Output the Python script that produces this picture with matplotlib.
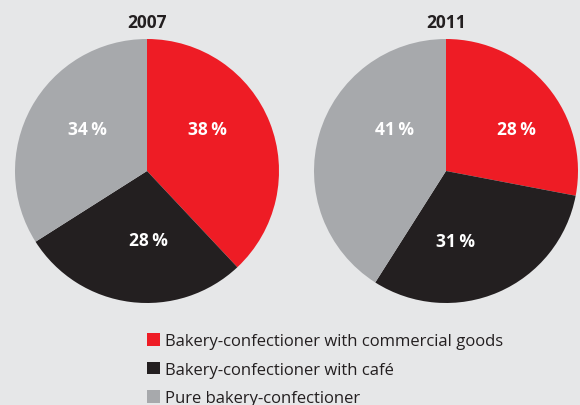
import matplotlib.pyplot as plt

plt.rcParams['font.family'] = ['Open Sans', 'DejaVu Sans']

years = ['2007', '2011']
categories = ['Bakery-confectioner with commercial goods',
              'Bakery-confectioner with café',
              'Pure bakery-confectioner']
shares_2007 = [38, 28, 34]
shares_2011 = [28, 31, 41]
colors = ['#ee1c25', '#231f20', '#a7a9ac']
bg = '#e6e7e8'

# label offsets inside each pie (fraction of radius)
label_pos = [
    [(0.46, 0.32), (0.01, -0.52), (-0.45, 0.32)],
    [(0.53, 0.32), (0.07, -0.53), (-0.39, 0.32)],
]

W, H = 580, 406
fig = plt.figure(figsize=(W / 100, H / 100), dpi=100, facecolor=bg)

centers = [(147, 172), (446, 172)]
R = 132
wedges = None
for i, (year, vals) in enumerate(zip(years, [shares_2007, shares_2011])):
    cx, cy = centers[i]
    ax = fig.add_axes([(cx - R) / W, (H - cy - R) / H, 2 * R / W, 2 * R / H])
    ax.set_facecolor(bg)
    w, _ = ax.pie(vals, colors=colors, startangle=90, counterclock=False,
                  wedgeprops=dict(linewidth=0))
    if wedges is None:
        wedges = w
    ax.set_xlim(-1, 1)
    ax.set_ylim(-1, 1)
    ax.set_aspect('equal')
    ax.axis('off')
    for v, (lx, ly) in zip(vals, label_pos[i]):
        ax.text(lx, ly, f'{v}\u2009%', color='white', fontsize=12.5,
                fontweight='bold', ha='center', va='center')
    fig.text(cx / W, 1 - 23 / H, year, fontsize=12.5, fontweight='bold',
             color='#231f20', ha='center', va='center')

fig.legend(wedges, categories, loc='upper left',
           bbox_to_anchor=(147 / W, 1 - 334 / H), frameon=False,
           fontsize=12, handlelength=0.8, handleheight=0.8,
           handletextpad=0.3, labelspacing=0.74, borderpad=0,
           borderaxespad=0, labelcolor='#231f20')

fig.savefig('out.png', dpi=100, facecolor=bg)
